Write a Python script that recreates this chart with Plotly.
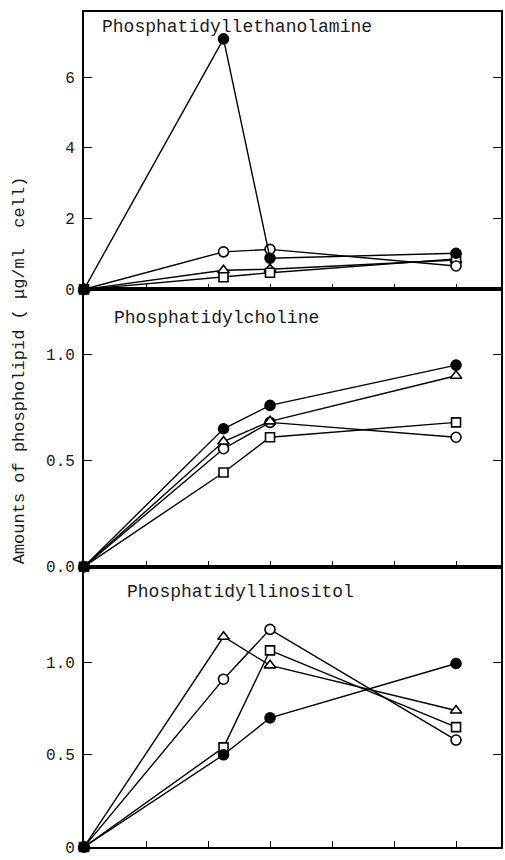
import plotly.graph_objects as go
from plotly.subplots import make_subplots

# ---- data ----
time_h = [0, 9, 12, 24]

pe_filled = [0, 7.08, 0.88, 1.02]
pe_open = [0, 1.06, 1.13, 0.66]
pe_tri = [0, 0.54, 0.57, 0.83]
pe_sq = [0, 0.34, 0.47, 0.86]

pc_filled = [0, 0.65, 0.76, 0.95]
pc_tri = [0, 0.59, 0.685, 0.90]
pc_open = [0, 0.556, 0.68, 0.61]
pc_sq = [0, 0.444, 0.61, 0.68]

pi_tri = [0, 1.14, 0.985, 0.74]
pi_open = [0, 0.91, 1.18, 0.58]
pi_sq = [0, 0.54, 1.066, 0.65]
pi_filled = [0, 0.50, 0.70, 0.995]

panel_titles = ["Phosphatidyllethanolamine", "Phosphatidylcholine", "Phosphatidyllinositol"]
y_title = "Amounts of phospholipid ( \u03bcg/ml  cell)"

pe_ticks = [0, 2, 4, 6]
pe_ticklabels = ["0", "2", "4", "6"]
pc_ticks = [0, 0.5, 1.0]
pc_ticklabels = ["0.0", "0.5", "1.0"]
pi_ticks = [0, 0.5, 1.0]
pi_ticklabels = ["0", "0.5", "1.0"]
x_ticks = [0, 4, 8, 12, 16, 20, 24]

FONT = "Liberation Mono, Courier New, monospace"
INK = "#1a1a1a"

fig = make_subplots(rows=3, cols=1, shared_xaxes=False, vertical_spacing=0,
                    row_heights=[280, 280, 283])

styles = {
    "tri": dict(symbol="triangle-up", size=10),
    "open": dict(symbol="circle", size=10),
    "sq": dict(symbol="square", size=9),
    "filled": dict(symbol="circle", size=10),
}

def add(row, y, kind):
    st = styles[kind]
    fill = "black" if kind == "filled" else "white"
    marker = dict(symbol=st["symbol"], size=st["size"], color=fill,
                  line=dict(color="black", width=1.6))
    fig.add_trace(go.Scatter(x=time_h, y=y, mode="lines+markers",
                             line=dict(color="black", width=1.4),
                             marker=marker, cliponaxis=False,
                             showlegend=False), row=row, col=1)

add(1, pe_tri, "tri"); add(1, pe_sq, "sq"); add(1, pe_open, "open"); add(1, pe_filled, "filled")
add(2, pc_sq, "sq"); add(2, pc_open, "open"); add(2, pc_tri, "tri"); add(2, pc_filled, "filled")
add(3, pi_sq, "sq"); add(3, pi_open, "open"); add(3, pi_tri, "tri"); add(3, pi_filled, "filled")

for r in (1, 2, 3):
    fig.update_xaxes(range=[0, 26.9], tickvals=x_ticks, showticklabels=False,
                     ticks="inside", ticklen=6, tickwidth=1.4, tickcolor="black",
                     showline=True, linecolor="black", linewidth=1.5, mirror=True,
                     showgrid=False, zeroline=False, row=r, col=1)

yspecs = [(1, [0, 7.84], pe_ticks, pe_ticklabels),
          (2, [0, 1.307], pc_ticks, pc_ticklabels),
          (3, [0, 1.52], pi_ticks, pi_ticklabels)]
for r, rng, tv, tt in yspecs:
    fig.update_yaxes(range=rng, tickvals=tv, ticktext=tt,
                     ticks="inside", ticklen=8, tickwidth=1.4, tickcolor="black",
                     showline=True, linecolor="black", linewidth=1.8, mirror="ticks",
                     showgrid=False, zeroline=False,
                     tickfont=dict(family=FONT, size=16, color=INK),
                     ticklabelstandoff=4, row=r, col=1)

# panel labels
label_pos = [(100, 27), (112, 321), (125, 597)]
W, H = 505, 860
L, R, T, B = 84, 2, 12, 6
pw, ph = W - L - R, H - T - B
for (px, py), txt in zip(label_pos, panel_titles):
    fig.add_annotation(x=(px - L) / pw, y=(H - B - py) / ph, xref="paper", yref="paper",
                       text=txt, showarrow=False, xanchor="left", yanchor="middle",
                       font=dict(family=FONT, size=18, color=INK))

fig.add_annotation(x=(20 - L) / pw, y=(H - B - 373) / ph, xref="paper", yref="paper",
                   text=y_title, textangle=-90, showarrow=False,
                   xanchor="center", yanchor="middle",
                   font=dict(family=FONT, size=17, color=INK))

fig.update_layout(width=W, height=H, margin=dict(l=L, r=R, t=T, b=B),
                  plot_bgcolor="white", paper_bgcolor="white")

fig.write_html("out.html", config={"displayModeBar": False},
               post_script="document.body.style.margin='0';document.body.style.padding='0';document.body.style.overflow='hidden';")
